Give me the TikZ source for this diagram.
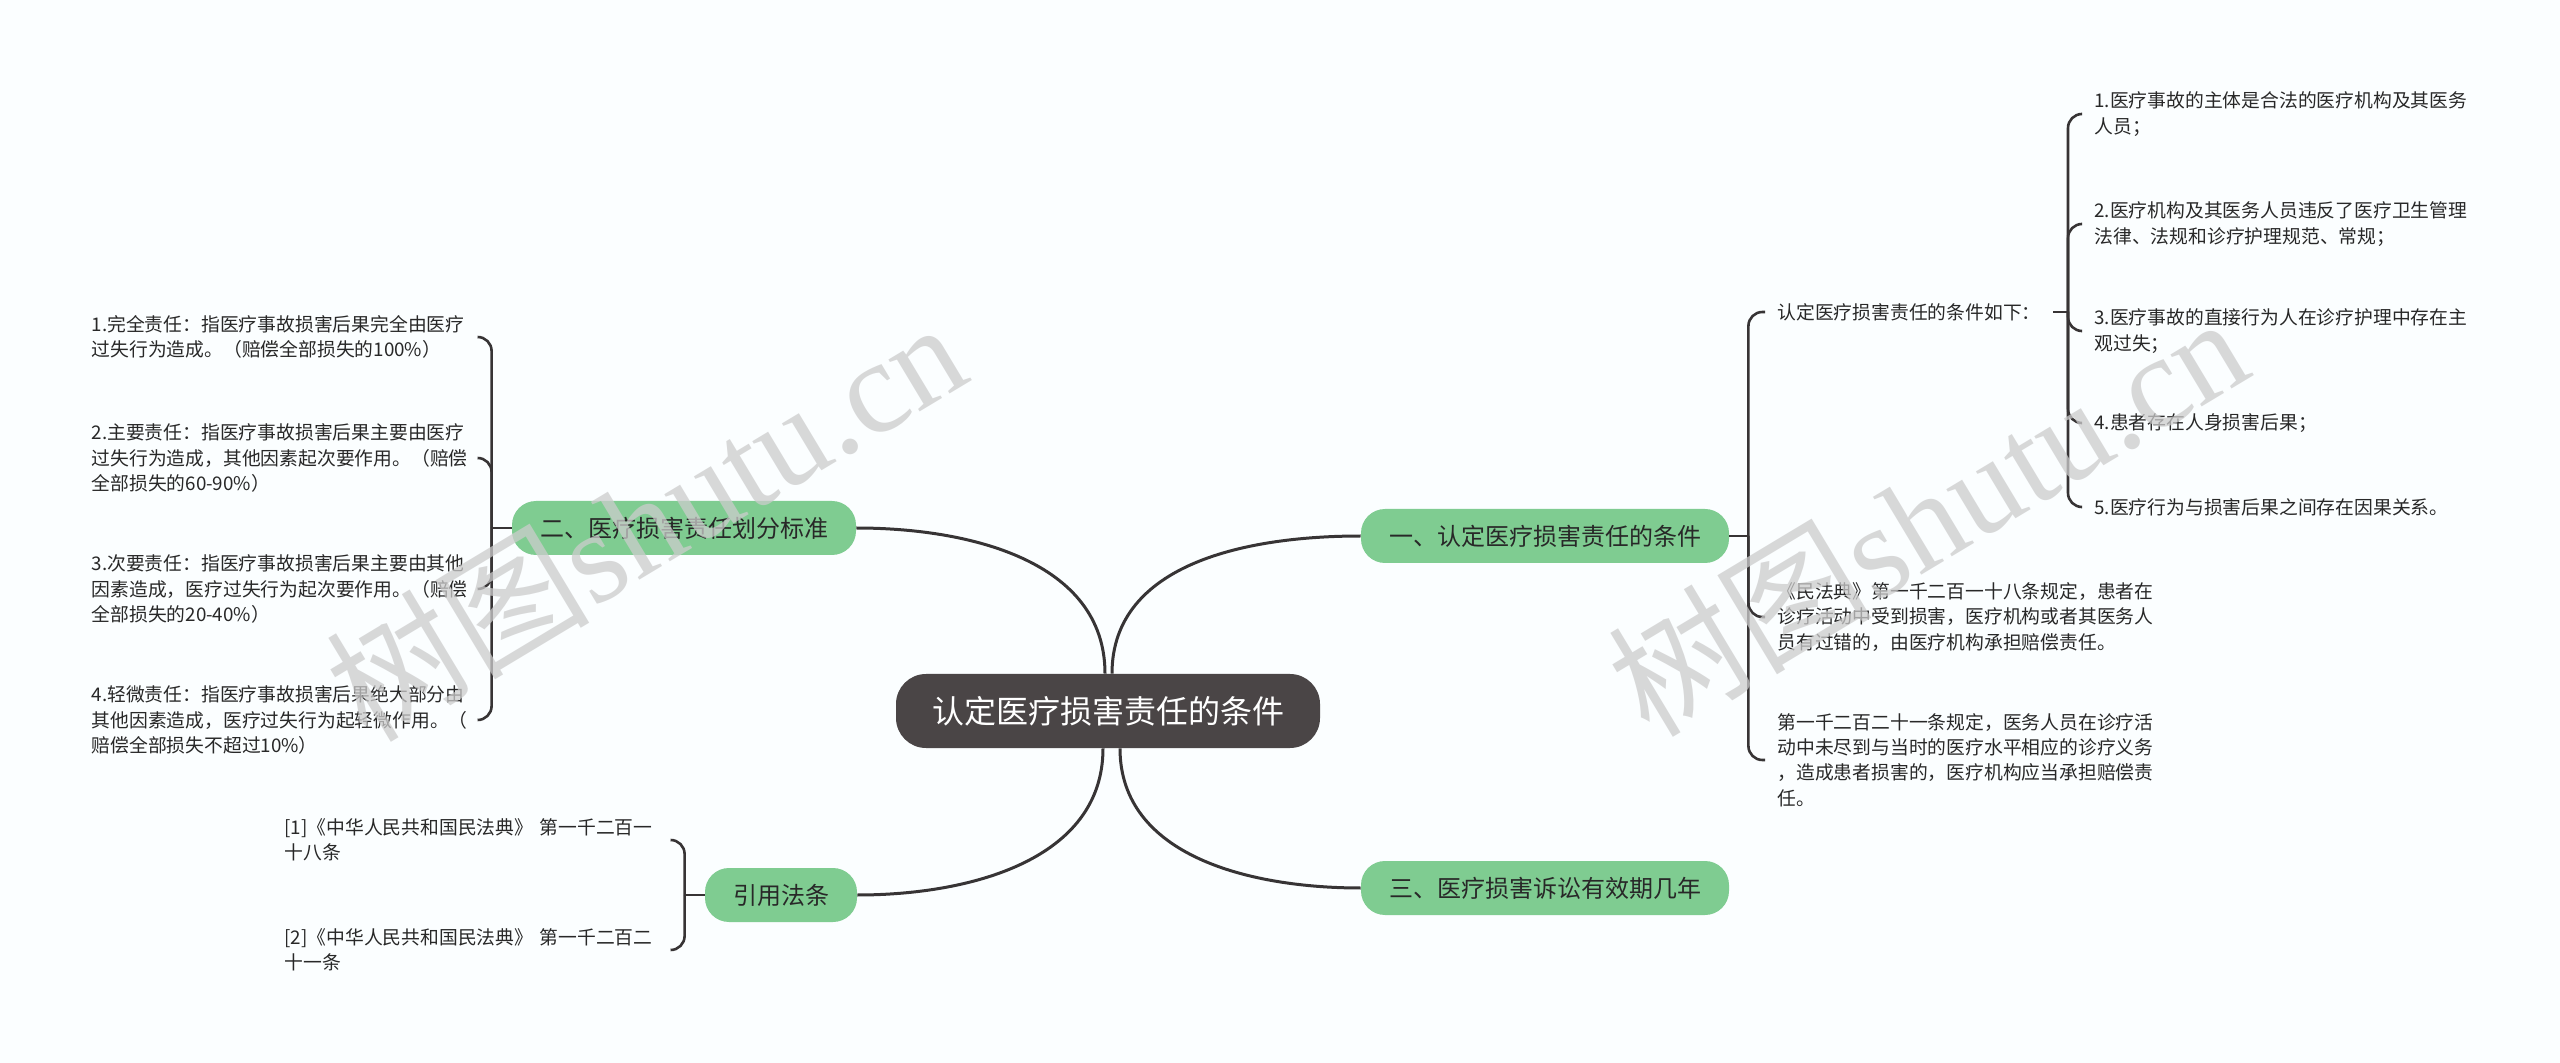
\documentclass[tikz,border=0pt]{standalone}
\usepackage{fontspec}
\setmainfont{Noto Sans CJK SC}
\newfontfamily\wmlatin{Liberation Serif}
\definecolor{bgcol}{RGB}{251,254,255}
\definecolor{leafgreen}{RGB}{127,204,145}
\definecolor{rootgray}{RGB}{74,69,70}
\definecolor{linecol}{RGB}{55,52,53}
\definecolor{txtcol}{RGB}{40,40,40}
\begin{document}
\begin{tikzpicture}[x=0.5pt,y=-0.5pt,
  root/.style={fill=rootgray, text=white, rounded corners=15pt, minimum height=37pt, inner xsep=18pt, font=\fontsize{16pt}{16pt}\selectfont},
  branch/.style={fill=leafgreen, text=txtcol, rounded corners=12pt, minimum height=27pt, inner xsep=14pt, font=\fontsize{12pt}{12pt}\selectfont},
  txt/.style={text=txtcol, inner ysep=0pt, inner xsep=3pt, font=\fontsize{9.4pt}{12.6pt}\selectfont},
  para/.style={txt, align=left, text width=190pt},
  link/.style={draw=linecol, line width=1.5pt},
  brace/.style={draw=linecol, line width=1.3pt, rounded corners=7pt},
  wmark/.style={text=gray!40, opacity=0.75, rotate=31, font=\fontsize{66pt}{66pt}\selectfont}]
\useasboundingbox (0,0) rectangle (2560,1063);
\fill[bgcol] (0,0) rectangle (2560,1063);

\node[root] (root) at (1108,711) {认定医疗损害责任的条件}; %centre
\node[branch] (n1) at (1545,536) {一、认定医疗损害责任的条件};
\node[branch] (n2) at (684,528) {二、医疗损害责任划分标准};
\node[branch] (n3) at (1545,888) {三、医疗损害诉讼有效期几年};
\node[branch] (n4) at (781,895) {引用法条};

\draw[link] (n1.west) to[out=180,in=90] ([xshift=2pt]root.north);
\draw[link] (n2.east) to[out=0,in=90] ([xshift=-1.5pt]root.north);
\draw[link] (n3.west) to[out=180,in=-90] ([xshift=6pt]root.south);
\draw[link] (n4.east) to[out=0,in=-90] ([xshift=-2.5pt]root.south);

% left: responsibility grades
\node[para, anchor=east] (l1) at (478,337) {1.完全责任：指医疗事故损害后果完全由医疗\\过失行为造成。（赔偿全部损失的100\%）};
\node[para, anchor=east] (l2) at (478,458) {2.主要责任：指医疗事故损害后果主要由医疗\\过失行为造成，其他因素起次要作用。（赔偿\\全部损失的60-90\%）};
\node[para, anchor=east] (l3) at (478,589) {3.次要责任：指医疗事故损害后果主要由其他\\因素造成，医疗过失行为起次要作用。（赔偿\\全部损失的20-40\%）};
\node[para, anchor=east] (l4) at (478,720) {4.轻微责任：指医疗事故损害后果绝大部分由\\其他因素造成，医疗过失行为起轻微作用。（\\赔偿全部损失不超过10\%）};
\draw[link, line width=1.3pt] (n2.west) -- ++(-20,0) coordinate (j2);
\foreach \k in {l1,l2,l3,l4}
  \draw[brace] (j2) |- (\k.east);

% left: cited articles
\node[para, anchor=east] (r1) at (671,840) {[1]《中华人民共和国民法典》 第一千二百一\\十八条};
\node[para, anchor=east] (r2) at (671,950) {[2]《中华人民共和国民法典》 第一千二百二\\十一条};
\draw[link, line width=1.3pt] (n4.west) -- ++(-20,0) coordinate (j4);
\foreach \k in {r1,r2}
  \draw[brace] (j4) |- (\k.east);

% right: conditions
\node[txt, anchor=west, inner xsep=6pt] (cond) at (1765,312) {认定医疗损害责任的条件如下：};
\node[para, anchor=west, inner xsep=6pt] (m1) at (1765,617) {《民法典》第一千二百一十八条规定，患者在\\诊疗活动中受到损害，医疗机构或者其医务人\\员有过错的，由医疗机构承担赔偿责任。};
\node[para, anchor=west, inner xsep=6pt] (m2) at (1765,760) {第一千二百二十一条规定，医务人员在诊疗活\\动中未尽到与当时的医疗水平相应的诊疗义务\\，造成患者损害的，医疗机构应当承担赔偿责\\任。};
\draw[link, line width=1.3pt] (n1.east) -- ++(19,0) coordinate (j1);
\foreach \k in {cond,m1,m2}
  \draw[brace] (j1) |- (\k.west);

\node[para, anchor=west, inner xsep=6.5pt] (c1) at (2081,114) {1.医疗事故的主体是合法的医疗机构及其医务\\人员；};
\node[para, anchor=west, inner xsep=6.5pt] (c2) at (2081,224) {2.医疗机构及其医务人员违反了医疗卫生管理\\法律、法规和诊疗护理规范、常规；};
\node[para, anchor=west, inner xsep=6.5pt] (c3) at (2081,331) {3.医疗事故的直接行为人在诊疗护理中存在主\\观过失；};
\node[para, anchor=west, inner xsep=6.5pt] (c4) at (2081,423) {4.患者存在人身损害后果；};
\node[para, anchor=west, inner xsep=6.5pt] (c5) at (2081,507) {5.医疗行为与损害后果之间存在因果关系。};
\draw[link, line width=1.3pt] (cond.east) -- ++(15,0) coordinate (j3);
\foreach \k in {c1,c2,c3,c4,c5}
  \draw[brace] (j3) |- (\k.west);

% watermarks
\node[wmark] (wm1) at (645,519) {树图{\wmlatin shutu.cn}};
\node[wmark] (wm2) at (1927,514) {树图{\wmlatin shutu.cn}};
\end{tikzpicture}
\end{document}
